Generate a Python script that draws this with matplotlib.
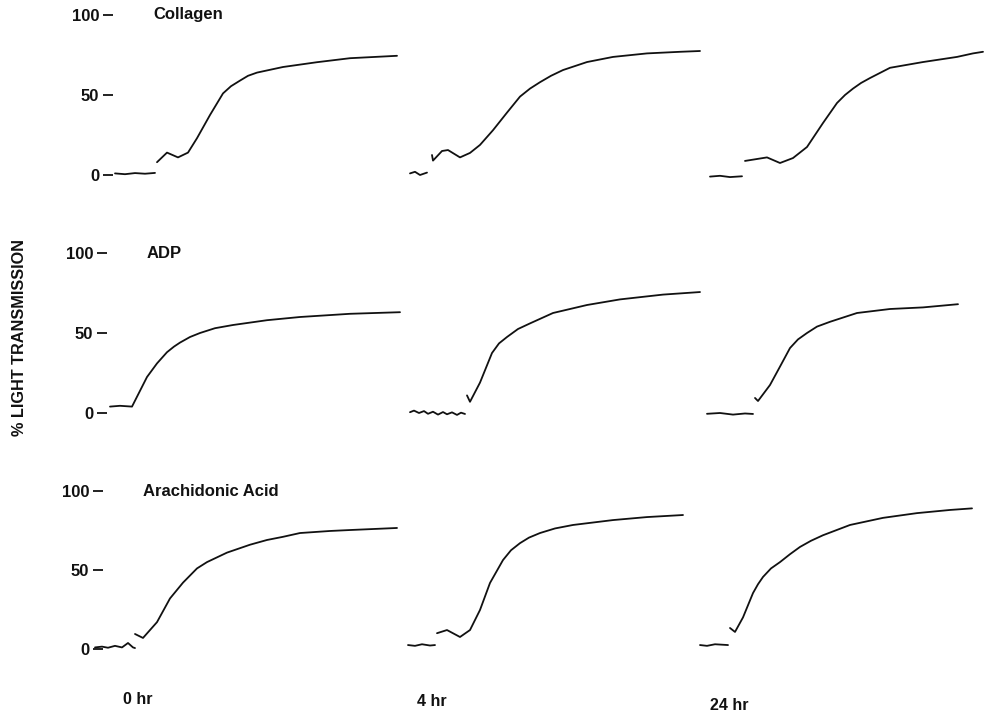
import numpy as np
import matplotlib
matplotlib.use("Agg")
import matplotlib.pyplot as plt

plt.rcParams['font.family'] = ['Liberation Sans', 'DejaVu Sans']

nan = np.nan

# time (s, from start of each recording) and % light transmission
# nan marks a pen lift between the baseline and the response
collagen_0h_t = [25, 35, 45, 55, 65, nan, 67, 77, 88, 98, 107, 120, 133, 141, 150, 158, 167, 193, 227, 260, 307]
collagen_0h_y = [1, 0.5, 1.2, 0.8, 1.3, nan, 8, 14, 11, 14, 23, 37.5, 51, 55.5, 59, 62, 64, 67.5, 70.5, 73, 74.5]
collagen_4h_t = [10, 15, 20, 27, nan, 32, 33, 42, 48, 60, 70, 80, 93, 107, 120, 130, 140, 151, 163, 187, 213, 247, 280, 300]
collagen_4h_y = [1, 2, 0, 1.5, nan, 12.5, 9, 15, 15.6, 11, 13.8, 18.8, 28, 39, 49, 54, 58, 62, 65.6, 70.6, 73.8, 76, 77, 77.5]
collagen_24h_t = [15, 25, 35, 47, nan, 50, 72, 85, 98, 112, 128, 142, 150, 158, 166, 175, 195, 228, 262, 278, 288]
collagen_24h_y = [-1, -0.5, -1.3, -0.8, nan, 8.8, 11, 7.5, 10.6, 17.5, 32.5, 45, 50, 54, 57.5, 60.6, 67, 70.6, 73.8, 76, 77]

adp_0h_t = [20, 30, 42, 57, 67, 77, 84, 90, 100, 110, 125, 143, 177, 210, 260, 310]
adp_0h_y = [4, 4.5, 4, 22.5, 31, 38, 41.5, 44, 47.5, 50, 53, 55, 58, 60, 62, 63]
adp_4h_t = [10, 14, 19, 24, 28, 33, 38, 43, 47, 52, 57, 61, 65, nan, 67, 70, 80, 92, 99, 107, 118, 130, 153, 187, 220, 263, 300]
adp_4h_y = [0.5, 1.5, 0, 1.2, -0.5, 0.8, -1, 0.6, -0.8, 0.4, -1.2, 0.2, -0.6, nan, 11, 7, 19, 37.5, 43.5, 47.5, 52.5, 56, 62.5, 67.5, 71, 74, 75.6]
adp_24h_t = [12, 25, 38, 50, 58, nan, 60, 63, 75, 85, 95, 103, 112, 122, 135, 162, 195, 228, 263]
adp_24h_y = [-0.5, 0, -1, -0.3, -0.6, nan, 9.4, 7.5, 17.5, 29, 40.6, 46, 50, 54, 57, 62.5, 65, 66, 68]

aa_0h_t = [5, 12, 18, 25, 32, 38, 43, 45, nan, 45, 53, 67, 80, 93, 107, 117, 127, 137, 160, 177, 193, 210, 240, 260, 307]
aa_0h_y = [1, 1.5, 0.8, 2, 1, 3.8, 1, 0.6, nan, 9.5, 7, 17, 32, 42, 51, 55, 58, 61, 66, 69, 71, 73.4, 74.7, 75.3, 76.6]
aa_4h_t = [8, 15, 22, 30, 35, nan, 37, 47, 60, 70, 80, 90, 103, 111, 120, 129, 140, 155, 173, 213, 247, 283]
aa_4h_y = [2.5, 2, 3, 2.2, 2.5, nan, 10, 12, 7.6, 12, 24.7, 41.8, 56.3, 62.5, 67, 70.5, 73.4, 76.3, 78.5, 81.6, 83.5, 84.8]
aa_24h_t = [5, 12, 20, 33, nan, 35, 40, 48, 58, 63, 68, 76, 85, 95, 105, 116, 128, 155, 188, 222, 255, 277]
aa_24h_y = [2.5, 2, 3, 2.5, nan, 13.3, 10.8, 20, 35.4, 41, 45.6, 51, 55, 60, 64.6, 68.5, 72, 78.5, 83, 86, 88, 89]

agonists = ["Collagen", "ADP", "Arachidonic Acid"]
times = ["0 hr", "4 hr", "24 hr"]
yticks = [0, 50, 100]

traces = [
    [(collagen_0h_t, collagen_0h_y), (collagen_4h_t, collagen_4h_y), (collagen_24h_t, collagen_24h_y)],
    [(adp_0h_t, adp_0h_y), (adp_4h_t, adp_4h_y), (adp_24h_t, adp_24h_y)],
    [(aa_0h_t, aa_0h_y), (aa_4h_t, aa_4h_y), (aa_24h_t, aa_24h_y)],
]

W, H = 984, 712
fig = plt.figure(figsize=(W / 100, H / 100), dpi=100)

# layout in pixels: where 0 % sits in each row, px per %, left edge of each column
row_zero = [175, 413, 649]
row_scale = [1.6, 1.6, 1.58]
col_left = [90, 400, 695]
spine_at = [23, 17, 13]
panel_w = 310
ylo, yhi = -15, 105

for r in range(3):
    top = row_zero[r] - yhi * row_scale[r]
    bottom = row_zero[r] - ylo * row_scale[r]
    for c in range(3):
        ax = fig.add_axes([col_left[c] / W, 1 - bottom / H, panel_w / W, (bottom - top) / H])
        ax.patch.set_alpha(0)
        t, y = traces[r][c]
        ax.plot(t, y, color='#111111', lw=1.3, solid_capstyle='round',
                solid_joinstyle='round', clip_on=False)
        ax.set_xlim(0, panel_w)
        ax.set_ylim(ylo, yhi)
        ax.set_xticks([])
        for s in ax.spines.values():
            s.set_visible(False)
        if c == 0:
            ax.spines['left'].set_position(('data', spine_at[r]))
            ax.set_yticks(yticks)
            ax.set_yticklabels([str(v) for v in yticks], fontweight='bold')
            ax.tick_params(axis='y', direction='out', length=7, width=1.3, pad=3,
                           labelsize=12, color='#111111', labelcolor='#111111')
            ax.text([63, 57, 53][r], 100, agonists[r], fontsize=12, fontweight='bold',
                    va='center', ha='left', color='#111111')
        else:
            ax.set_yticks([])

fig.text(20 / W, 1 - 338 / H, "% LIGHT TRANSMISSION", rotation=90, ha='center', va='center',
         fontsize=11.7, fontweight='bold', color='#111111')

for lbl, x, y in zip(times, [123, 417, 710], [700, 702, 705]):
    fig.text(x / W, 1 - y / H, lbl, ha='left', va='center', fontsize=11.5,
             fontweight='bold', color='#111111')

fig.savefig("out.png", dpi=100)
